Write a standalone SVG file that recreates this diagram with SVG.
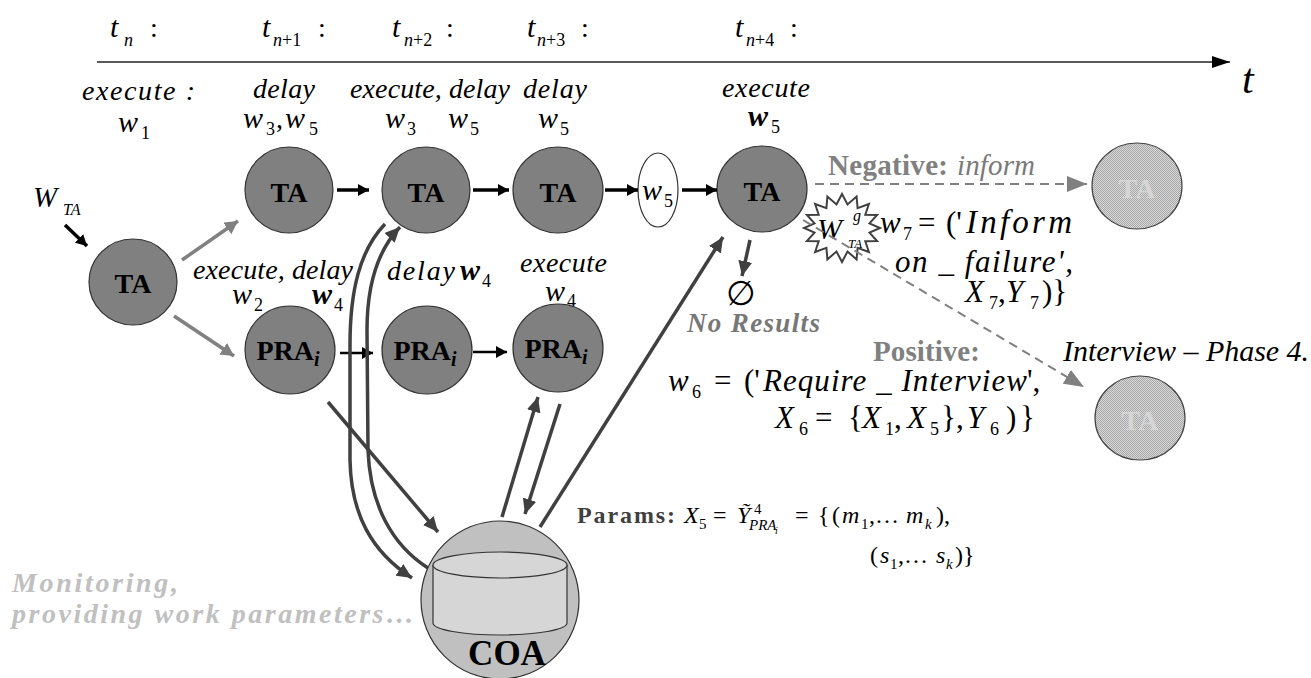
<svg xmlns="http://www.w3.org/2000/svg" width="1311" height="678" viewBox="0 0 1311 678" font-family="'Liberation Serif', 'Times New Roman', serif">
<defs>
<style>
text{font-family:'Liberation Serif', 'Times New Roman', serif;fill:#000}
.i{font-style:italic}
.b{font-weight:bold}
.t{font-size:30px;font-style:italic}
.s{font-size:18px}
.f{font-size:31px}
.fs{font-size:18px}
.p{font-size:24px}
.ps{font-size:15px}
.node{fill:#808080;stroke:#333;stroke-width:1.2}
.lnode{fill:url(#dither);stroke:#444;stroke-width:1.2}
.nl{font-size:28px;font-weight:bold;text-anchor:middle}
.lnl{font-size:28px;font-weight:bold;text-anchor:middle;fill:#d6d6d6}
.cb{stroke:#000;stroke-width:3.5;fill:none}
.cb2{stroke:#000;stroke-width:2.5;fill:none}
.cg{stroke:#808080;stroke-width:3.5;fill:none}
.cd{stroke:#404040;stroke-width:3.5;fill:none}
.dash{stroke:#808080;stroke-width:2;stroke-dasharray:9 6;fill:none}
.gray{fill:#808080;font-weight:bold}
.mon{fill:#c0c0c0;font-weight:bold;font-style:italic;font-size:28px}
</style>
<pattern id="dither" patternUnits="userSpaceOnUse" width="2" height="2"><rect width="2" height="2" fill="#dadada"/><rect width="1" height="1" fill="#a6a6a6"/><rect x="1" y="1" width="1" height="1" fill="#a6a6a6"/></pattern>
<marker id="mb" markerUnits="userSpaceOnUse" markerWidth="12" markerHeight="12" refX="11" refY="6" orient="auto"><path d="M0,0 L11,6 L0,12 z" fill="#000"/></marker>
<marker id="mg" markerUnits="userSpaceOnUse" markerWidth="14" markerHeight="14" refX="13" refY="7" orient="auto"><path d="M0,0 L13,7 L0,14 z" fill="#808080"/></marker>
<marker id="md" markerUnits="userSpaceOnUse" markerWidth="15" markerHeight="14" refX="15" refY="7" orient="auto"><path d="M0,0 L15,7 L0,14 z" fill="#404040"/></marker>
<marker id="mdash" markerUnits="userSpaceOnUse" markerWidth="20" markerHeight="16" refX="20" refY="8" orient="auto"><path d="M0,0 L20,8 L0,16 z" fill="#808080"/></marker>
<marker id="mt" markerUnits="userSpaceOnUse" markerWidth="18" markerHeight="12" refX="18" refY="6" orient="auto"><path d="M0,0 L18,6 L0,12 z" fill="#000"/></marker>
</defs>
<rect width="1311" height="678" fill="#fff"/>

<g id="time-axis">
<line x1="97" y1="62" x2="1230" y2="62" stroke="#222" stroke-width="1.5" marker-end="url(#mt)"/>
<text x="1242" y="93" font-size="42" class="i">t</text>
<text y="37"><tspan class="t" x="110">t</tspan><tspan class="s i" x="124" y="46">n</tspan><tspan x="150" y="37" font-size="28">:</tspan></text>
<text y="37"><tspan class="t" x="262">t</tspan><tspan class="s" x="273" y="46"><tspan class="i">n</tspan>+1</tspan><tspan x="318" y="37" font-size="28">:</tspan></text>
<text y="37"><tspan class="t" x="392">t</tspan><tspan class="s" x="404" y="46"><tspan class="i">n</tspan>+2</tspan><tspan x="446" y="37" font-size="28">:</tspan></text>
<text y="37"><tspan class="t" x="527">t</tspan><tspan class="s" x="537" y="46"><tspan class="i">n</tspan>+3</tspan><tspan x="581" y="37" font-size="28">:</tspan></text>
<text y="37"><tspan class="t" x="735">t</tspan><tspan class="s" x="746" y="46"><tspan class="i">n</tspan>+4</tspan><tspan x="790" y="37" font-size="28">:</tspan></text>
</g>

<g id="step-labels">
<text x="82" y="100" font-size="28" class="i" textLength="113" lengthAdjust="spacing">execute :</text>
<text y="132"><tspan class="t" x="118">w</tspan><tspan class="s" x="141" y="139">1</tspan></text>
<text x="253" y="98" font-size="28" class="i" textLength="62" lengthAdjust="spacing">delay</text>
<text y="128"><tspan class="t" x="243">w</tspan><tspan class="s" x="266" y="135">3</tspan><tspan x="276" y="128" font-size="28">,</tspan><tspan class="t" x="285">w</tspan><tspan class="s" x="309" y="135">5</tspan></text>
<text x="350" y="98" font-size="28" class="i" textLength="160" lengthAdjust="spacing">execute, delay</text>
<text y="128"><tspan class="t" x="385">w</tspan><tspan class="s" x="407" y="135">3</tspan></text>
<text y="128"><tspan class="t" x="448">w</tspan><tspan class="s" x="470" y="135">5</tspan></text>
<text x="523" y="98" font-size="28" class="i" textLength="64" lengthAdjust="spacing">delay</text>
<text y="128"><tspan class="t" x="538">w</tspan><tspan class="s" x="560" y="135">5</tspan></text>
<text x="722" y="97" font-size="28" class="i" textLength="88" lengthAdjust="spacing">execute</text>
<text y="126"><tspan class="t b" x="748">w</tspan><tspan class="s" x="771" y="133">5</tspan></text>
<text x="193" y="279" font-size="28" class="i" textLength="160" lengthAdjust="spacing">execute, delay</text>
<text y="304"><tspan class="t" x="232">w</tspan><tspan class="s" x="254" y="311">2</tspan></text>
<text y="304"><tspan class="t b" x="312">w</tspan><tspan class="s" x="334" y="311">4</tspan></text>
<text x="387" y="280" font-size="28" class="i" textLength="68" lengthAdjust="spacing">delay</text>
<text y="280"><tspan class="t b" x="460">w</tspan><tspan class="s" x="482" y="287">4</tspan></text>
<text x="520" y="272" font-size="28" class="i" textLength="87" lengthAdjust="spacing">execute</text>
<text y="301"><tspan class="t" x="545">w</tspan><tspan class="s" x="567" y="307">4</tspan></text>
<text y="207"><tspan class="i" font-size="29" x="33">W</tspan><tspan class="i" font-size="16" x="63" y="215">TA</tspan></text>
</g>

<g id="ta0"><ellipse class="node" cx="133" cy="282" rx="44" ry="43"/><text class="nl" x="133" y="293">TA</text></g>
<g id="ta1"><ellipse class="node" cx="289" cy="190" rx="44" ry="43"/><text class="nl" x="289" y="202">TA</text></g>
<g id="ta2"><ellipse class="node" cx="426" cy="190" rx="44" ry="43"/><text class="nl" x="426" y="202">TA</text></g>
<g id="ta3"><ellipse class="node" cx="558" cy="190" rx="45" ry="43"/><text class="nl" x="558" y="202">TA</text></g>
<g id="w5"><ellipse cx="658" cy="190" rx="20" ry="37" fill="#fff" stroke="#333" stroke-width="1.2"/><text y="200"><tspan class="t" x="642">w</tspan><tspan class="s" x="664" y="207">5</tspan></text></g>
<g id="ta4"><ellipse class="node" cx="762" cy="189" rx="45" ry="43"/><text class="nl" x="762" y="201">TA</text></g>
<g id="ta-neg"><ellipse class="lnode" cx="1137" cy="186" rx="45" ry="43"/><text class="lnl" x="1137" y="198">TA</text></g>
<g id="ta-pos"><ellipse class="lnode" cx="1140" cy="418" rx="45" ry="42"/><text class="lnl" x="1140" y="430">TA</text></g>
<g id="pra1"><ellipse class="node" cx="290" cy="350" rx="45" ry="44"/><text class="nl" x="288" y="360">PRA<tspan font-style="italic" font-size="20" dy="6">i</tspan></text></g>
<g id="pra2"><ellipse class="node" cx="427" cy="350" rx="45" ry="44"/><text class="nl" x="425" y="360">PRA<tspan font-style="italic" font-size="20" dy="6">i</tspan></text></g>
<g id="pra3"><ellipse class="node" cx="558" cy="348" rx="45" ry="44"/><text class="nl" x="556" y="358">PRA<tspan font-style="italic" font-size="20" dy="6">i</tspan></text></g>
<g id="coa">
<circle cx="500" cy="600" r="79" fill="#c0c0c0" stroke="#333" stroke-width="1.2"/>
<path d="M433,565 L433,623 A67,12 0 0 0 567,623 L567,565" fill="#d6d6d6" stroke="#333" stroke-width="1.2"/>
<ellipse cx="500" cy="565" rx="67" ry="13" fill="#d6d6d6" stroke="#333" stroke-width="1.2"/>
<text x="507" y="665" font-size="35" font-weight="bold" text-anchor="middle">COA</text>
</g>
<g id="wtag">
<polygon points="880,228 869.5,232.7 877.1,241 865.3,241.3 868.9,252 857.6,247.9 856.6,259.4 847.5,251.5 842,262 836.5,251.5 827.4,259.4 826.4,247.9 815.1,252 818.7,241.3 806.9,241 814.5,232.7 804,228 814.5,223.3 806.9,215 818.7,214.7 815.1,204 826.4,208.1 827.4,196.6 836.5,204.5 842,194 847.5,204.5 856.6,196.6 857.6,208.1 868.9,204 865.3,214.7 877.1,215 869.5,223.3" fill="#fff" stroke="#404040" stroke-width="2"/>
<text y="239"><tspan class="i" font-size="30" x="817">W</tspan><tspan class="i" font-size="16" x="853" y="221">g</tspan><tspan class="i" font-size="13" x="848" y="248">TA</tspan></text>
</g>

<g id="connectors">
<line class="cb" x1="65" y1="225" x2="87" y2="246" marker-end="url(#mb)"/>
<line class="cg" x1="182" y1="260" x2="238" y2="221" marker-end="url(#mg)"/>
<line class="cg" x1="174" y1="316" x2="234" y2="356" marker-end="url(#mg)"/>
<line class="cb" x1="337" y1="190" x2="369" y2="190" marker-end="url(#mb)"/>
<line class="cb" x1="473" y1="190" x2="509" y2="190" marker-end="url(#mb)"/>
<line class="cb" x1="605" y1="190" x2="638" y2="190" marker-end="url(#mb)"/>
<line class="cb" x1="682" y1="190" x2="717" y2="190" marker-end="url(#mb)"/>
<line class="cb2" x1="340" y1="353" x2="373" y2="353" marker-end="url(#mb)"/>
<line class="cb2" x1="473" y1="352" x2="507" y2="352" marker-end="url(#mb)"/>
<line class="cd" x1="328" y1="402" x2="438" y2="532" marker-end="url(#md)"/>
<path class="cd" d="M385,224 C360,250 350,290 350,345 L350,460 C351,515 372,552 412,578" marker-end="url(#md)"/>
<path class="cd" d="M428,568 C392,545 370,505 368,450 L367,330 C367,285 378,250 400,227" marker-end="url(#md)"/>
<line class="cd" x1="502" y1="517" x2="538" y2="397" marker-end="url(#md)"/>
<line class="cd" x1="560" y1="404" x2="525" y2="514" marker-end="url(#md)"/>
<line class="cd" x1="540" y1="527" x2="723" y2="237" marker-end="url(#md)"/>
<line class="cd" x1="750" y1="240" x2="742" y2="276" marker-end="url(#md)"/>
<line class="dash" x1="815" y1="184" x2="1087" y2="184" marker-end="url(#mdash)"/>
<line class="dash" x1="803" y1="220" x2="1084" y2="387" marker-end="url(#mdash)"/>
</g>

<g id="annotations">
<text x="741" y="305" font-size="34" text-anchor="middle">∅</text>
<text x="687" y="332" font-size="27" class="i b" style="fill:#777" textLength="133" lengthAdjust="spacing">No Results</text>
<text x="828" y="175" font-size="29" class="gray" textLength="120" lengthAdjust="spacing">Negative:</text>
<text x="957" y="175" font-size="29" class="i" style="fill:#7a7a7a" textLength="78" lengthAdjust="spacing">inform</text>
<text y="233" class="f"><tspan class="i" x="880">w</tspan><tspan class="fs" x="903" y="240">7</tspan><tspan x="918" y="233">=</tspan><tspan x="946">('</tspan></text>
<text x="966" y="233" font-size="33" class="i" textLength="106" lengthAdjust="spacing">Inform</text>
<text x="895" y="272" class="f i" textLength="178" lengthAdjust="spacing">on _ failure',</text>
<text y="302" class="f"><tspan class="i" x="965">X</tspan><tspan class="fs" x="989" y="309">7</tspan><tspan x="998" y="302">,</tspan><tspan class="i" x="1006">Y</tspan><tspan class="fs" x="1030" y="309">7</tspan><tspan x="1042" y="302">)}</tspan></text>
<text x="873" y="361" font-size="29" class="gray" textLength="107" lengthAdjust="spacing">Positive:</text>
<text x="1063" y="361" font-size="30" class="i" textLength="246" lengthAdjust="spacing">Interview – Phase 4.</text>
<text y="391" class="f"><tspan class="i" x="668">w</tspan><tspan class="fs" x="692" y="398">6</tspan><tspan x="714" y="391">=</tspan><tspan x="744">('</tspan></text>
<text x="763" y="391" class="f i" textLength="264" lengthAdjust="spacing">Require _ Interview</text>
<text x="1027" y="391" class="f">',</text>
<text y="428" class="f"><tspan class="i" x="775">X</tspan><tspan class="fs" x="799" y="435">6</tspan><tspan x="815" y="428">=</tspan><tspan x="848">{</tspan><tspan class="i" x="862">X</tspan><tspan class="fs" x="885" y="435">1</tspan><tspan x="894" y="428">,</tspan><tspan class="i" x="907">X</tspan><tspan class="fs" x="930" y="435">5</tspan><tspan x="941" y="428">},</tspan><tspan class="i" x="967">Y</tspan><tspan class="fs" x="990" y="435">6</tspan><tspan x="1006" y="428">)</tspan><tspan x="1020">}</tspan></text>
<text x="577" y="523" font-size="24" font-weight="bold" style="fill:#404040" textLength="98" lengthAdjust="spacing">Params:</text>
<text y="523" class="p"><tspan class="i" x="684">X</tspan><tspan class="ps" x="699" y="529">5</tspan><tspan x="713" y="523">=</tspan><tspan class="i" x="737">Ỹ</tspan><tspan class="ps" x="754" y="514">4</tspan><tspan class="ps i" x="749" y="530">PRA</tspan><tspan font-size="10" class="i" x="775" y="534">i</tspan><tspan x="795" y="523">=</tspan><tspan x="818">{</tspan><tspan x="832">(</tspan><tspan class="i" x="842">m</tspan><tspan class="ps" x="861" y="529">1</tspan><tspan x="869" y="523">,…</tspan><tspan class="i" x="906">m</tspan><tspan class="ps i" x="925" y="529">k</tspan><tspan x="936" y="523">),</tspan></text>
<text y="563" class="p"><tspan x="870">(</tspan><tspan class="i" x="880">s</tspan><tspan class="ps" x="890" y="569">1</tspan><tspan x="898" y="563">,…</tspan><tspan class="i" x="936">s</tspan><tspan class="ps i" x="946" y="569">k</tspan><tspan x="955" y="563">)}</tspan></text>
<text x="12" y="592" class="mon" textLength="166" lengthAdjust="spacing">Monitoring,</text>
<text x="12" y="623" class="mon" textLength="402" lengthAdjust="spacing">providing work parameters…</text>
</g>
</svg>
